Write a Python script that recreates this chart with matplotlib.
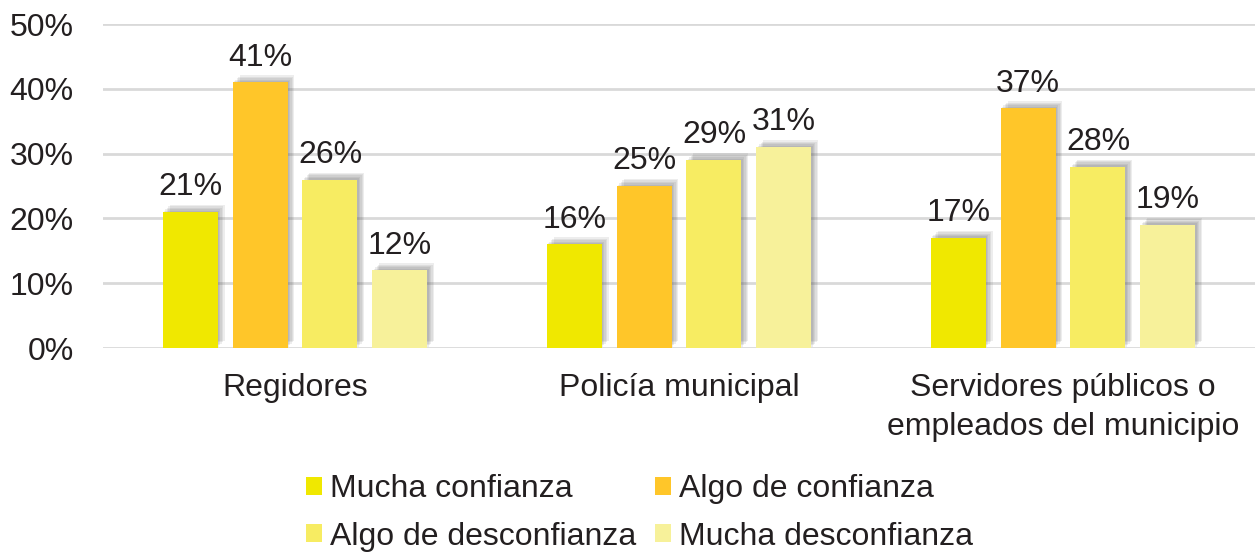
import numpy as np
import matplotlib
matplotlib.use("Agg")
import matplotlib.pyplot as plt
import matplotlib.patheffects as pe
from matplotlib.patches import Patch

plt.rcParams["font.family"] = ["Liberation Sans", "DejaVu Sans"]

categories = ["Regidores", "Policía municipal", "Servidores públicos o\nempleados del municipio"]
series = ["Mucha confianza", "Algo de confianza", "Algo de desconfianza", "Mucha desconfianza"]
mucha_conf = [21, 16, 17]
algo_conf = [41, 25, 37]
algo_desc = [26, 29, 28]
mucha_desc = [12, 31, 19]
yticks = [0, 10, 20, 30, 40, 50]

colors = ["#F0E800", "#FFC629", "#F7EC62", "#F7F19A"]
values = [mucha_conf, algo_conf, algo_desc, mucha_desc]

fig = plt.figure(figsize=(12.59, 5.58), dpi=100)
ax = fig.add_axes([103 / 1259, 1 - 348 / 558, 1152 / 1259, 324 / 558])

x = np.arange(len(categories))
width = 0.143
step = 0.182
# soft drop shadow, faked with stacked offset copies
shadow = [pe.SimplePatchShadow(offset=(d, d), shadow_rgbFace="#555555", alpha=0.10)
          for d in (1.0, 2.0, 3.0, 4.0, 5.0)] + [pe.Normal()]

for i, (vals, col) in enumerate(zip(values, colors)):
    pos = x + (i - 1.5) * step
    bars = ax.bar(pos, vals, width=width, color=col, zorder=3, label=series[i])
    for b in bars:
        b.set_path_effects(shadow)
    for p, v in zip(pos, vals):
        ax.annotate(f"{v}%", (p, v), xytext=(0, 7), textcoords="offset points",
                    ha="center", va="bottom", fontsize=23, color="#231F20", zorder=4)

ax.set_xlim(-0.5, 2.5)
ax.set_ylim(0, 50)
ax.set_yticks(yticks)
ax.set_yticklabels([f"{t}%" for t in yticks])
ax.set_xticks(x)
ax.set_xticklabels(categories, linespacing=1.4, va="top")
ax.tick_params(axis="both", length=0, labelsize=23, labelcolor="#231F20")
ax.tick_params(axis="y", pad=21)
ax.tick_params(axis="x", pad=18)
ax.grid(axis="y", color="#D9D9D9", lw=2, zorder=0)
ax.set_axisbelow(True)
for s in ax.spines.values():
    s.set_visible(False)

order = [0, 2, 1, 3]
handles = [Patch(facecolor=colors[k], edgecolor="none") for k in order]
labels = [series[k] for k in order]
fig.legend(handles, labels, ncol=2, loc="upper left", bbox_to_anchor=(290 / 1259, 1 - 458 / 558),
           frameon=False, fontsize=23, handlelength=0.5, handleheight=0.5, handletextpad=0.25,
           columnspacing=0.6, labelspacing=0.55, labelcolor="#231F20", borderpad=0)

fig.savefig("out.png", dpi=100)
